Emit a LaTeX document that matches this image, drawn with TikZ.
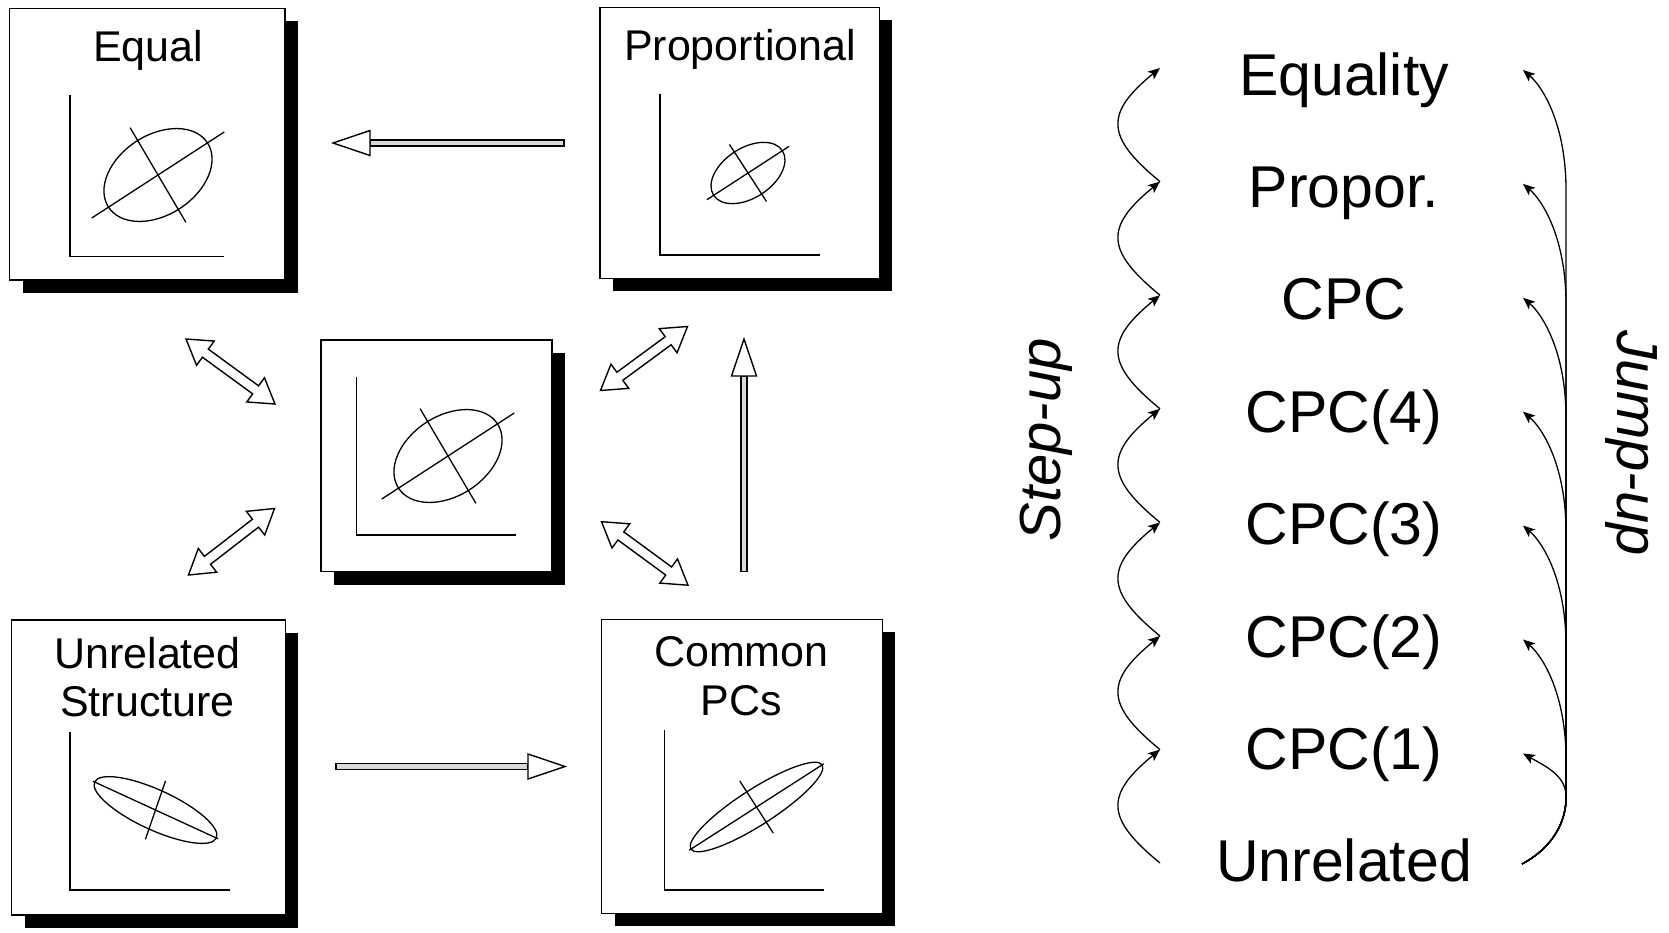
\documentclass[tikz,border=0pt]{standalone}
\usepackage{fontspec}
\setmainfont{Liberation Sans}
\usetikzlibrary{calc,arrows.meta,shadows}

\tikzset{
  panel/.style={draw, fill=white, line width=1.6pt, inner sep=0pt,
    drop shadow={shadow xshift=13pt, shadow yshift=-13pt, fill=black, opacity=1}},
  axisline/.style={line width=1.4pt},
  plotline/.style={line width=1.3pt},
  boxtitle/.style={font=\fontsize{43}{50}\selectfont, anchor=base, inner sep=0pt},
  level/.style={font=\fontsize{59}{70}\selectfont, anchor=base, inner sep=0pt},
  sidelabel/.style={font=\fontsize{58}{70}\selectfont\itshape, inner sep=0pt},
  curvearrow/.style={line width=1.3pt, -{Stealth[length=12pt,width=10pt,inset=3pt]}},
  blockline/.style={line width=1.4pt, line join=miter},
}

% hollow single arrow: #1 tail, #2 tip
\newcommand{\singlearrow}[2]{%
  \coordinate (sH) at ($(#2)!37pt!(#1)$);
  \filldraw[blockline, fill=gray!30]
    ($(#1)!3pt!90:(#2)$) -- ($(sH)!3pt!90:(#2)$) -- ($(sH)!3pt!-90:(#2)$) -- ($(#1)!3pt!-90:(#2)$) -- cycle;
  \filldraw[blockline, fill=white]
    ($(sH)!12.5pt!90:(#2)$) -- (#2) -- ($(sH)!12.5pt!-90:(#2)$) -- cycle;
}
% hollow double arrow between #1 and #2
\newcommand{\doublearrow}[2]{%
  \coordinate (dA) at ($(#1)!24pt!(#2)$);
  \coordinate (dB) at ($(#2)!24pt!(#1)$);
  \filldraw[blockline, fill=white]
    (#1) -- ($(dA)!15pt!90:(#2)$) -- ($(dA)!5pt!90:(#2)$) -- ($(dB)!5pt!90:(#2)$)
    -- ($(dB)!15pt!90:(#2)$) -- (#2) -- ($(dB)!15pt!-90:(#2)$) -- ($(dB)!5pt!-90:(#2)$)
    -- ($(dA)!5pt!-90:(#2)$) -- ($(dA)!15pt!-90:(#2)$) -- cycle;
}
% scatter ellipse: #1 centre, #2 angle, #3 a, #4 b, #5 major half, #6 minor half, #7 minor tilt
\newcommand{\scatterell}[7]{%
  \begin{scope}[shift={#1}, rotate=#2]
    \draw[plotline] (0,0) ellipse [x radius=#3pt, y radius=#4pt];
    \draw[plotline] (-#5pt,0) -- (#5pt,0);
    \draw[plotline, rotate=#7] (0,-#6pt) -- (0,#6pt);
  \end{scope}%
}

\begin{document}
\begin{tikzpicture}[x=1pt,y=-1pt]
\useasboundingbox (0,0) rectangle (1669,932);

% panels
\node[panel, minimum width=275.5pt, minimum height=271.7pt] (eq) at (147.4,144.2) {};
\node[panel, minimum width=279.3pt, minimum height=271pt] (pr) at (739.7,142.8) {};
\node[panel, minimum width=230.8pt, minimum height=231.7pt] (ce) at (436.4,455.8) {};
\node[panel, minimum width=273.8pt, minimum height=295pt] (un) at (148.4,767.5) {};
\node[panel, minimum width=280.7pt, minimum height=294pt] (cp) at (742,766.3) {};

% titles
\node[boxtitle] (eqT) at (148.3,61) {Equal};
\node[boxtitle] (prT) at (740,60) {Proportional};
\node[boxtitle] (unT1) at (147.5,668) {Unrelated};
\node[boxtitle] (unT2) at (147.5,716.5) {Structure};
\node[boxtitle] (cpT1) at (741.4,666.5) {Common};
\node[boxtitle] (cpT2) at (741.4,715) {PCs};

% axes
\draw[axisline] (70,95) -- (70,256.5) -- (224,256.5);
\draw[axisline] (660,94) -- (660,255) -- (820,255);
\draw[axisline] (356.7,377) -- (356.7,535) -- (515.5,535);
\draw[axisline] (70,732) -- (70,890) -- (229.6,890);
\draw[axisline] (664.2,729.5) -- (664.2,890) -- (823.8,890);

% ellipses
\scatterell{(158,175)}{33}{59}{40}{79}{55}{-2.5}
\scatterell{(748,173)}{33}{41}{25}{49}{34}{0}
\scatterell{(448,456)}{33}{59}{40}{79}{55}{-2.5}
\scatterell{(155.5,810)}{-24.7}{67}{20}{69}{31}{5.7}
\scatterell{(756.5,807)}{32.7}{78}{18}{80}{31}{0}

% block arrows
\coordinate (a1s) at (564,143);   \coordinate (a1t) at (333,143);
\coordinate (a2s) at (336,766.5); \coordinate (a2t) at (565,766.5);
\coordinate (a3s) at (744,571.6); \coordinate (a3t) at (744,339);
\singlearrow{a1s}{a1t}
\singlearrow{a2s}{a2t}
\singlearrow{a3s}{a3t}

\coordinate (d1a) at (186,339);   \coordinate (d1b) at (275,404);
\coordinate (d2a) at (188.5,575); \coordinate (d2b) at (274.5,508.5);
\coordinate (d3a) at (600.5,390.5); \coordinate (d3b) at (687.5,326.5);
\coordinate (d4a) at (601.5,521.7); \coordinate (d4b) at (688,585.2);
\doublearrow{d1a}{d1b}
\doublearrow{d2a}{d2b}
\doublearrow{d3a}{d3b}
\doublearrow{d4a}{d4b}

% levels
\node[level] (lv0) at (1344,95) {Equality};
\node[level] (lv1) at (1344,207.4) {Propor.};
\node[level] (lv2) at (1344,319.8) {CPC};
\node[level] (lv3) at (1344,432.2) {CPC(4)};
\node[level] (lv4) at (1344,544.6) {CPC(3)};
\node[level] (lv5) at (1344,657) {CPC(2)};
\node[level] (lv6) at (1344,769.4) {CPC(1)};
\node[level] (lv7) at (1344,881.8) {Unrelated};

% step-up chain
\foreach \i/\y in {0/68,1/181.6,2/295.2,3/408.8,4/522.4,5/636,6/749.6,7/863}
  \coordinate (st\i) at (1160,\y);
\foreach \i [evaluate=\i as \j using int(\i+1)] in {0,...,6}
  \draw[curvearrow] (st\j) .. controls +(-55,-45) and +(-55,45) .. (st\i);

% jump-up bundle
\coordinate (j0) at (1522,864);
\foreach \i/\y in {0/70,1/183.9,2/297.8,3/411.7,4/525.6,5/639.5,6/753.4}
  \coordinate (jt\i) at (1523,\y);
\foreach \i in {0,...,5}
  \draw[curvearrow] (j0) .. controls (1552,848) and (1567,822) .. (1566,795)
    -- ($(jt\i)+(43,120)$) .. controls ($(jt\i)+(43,55)$) and ($(jt\i)+(20,17)$) .. (jt\i);
\draw[curvearrow] (j0) .. controls (1552,848) and (1567,822) .. (1566,795)
    .. controls (1565,775) and (1545,766) .. (jt6);

% side labels
\node[sidelabel, rotate=90] (stepL) at (1046,440) {Step-up};
\node[sidelabel, rotate=-90] (jumpL) at (1631,443) {Jump-up};
\end{tikzpicture}
\end{document}
